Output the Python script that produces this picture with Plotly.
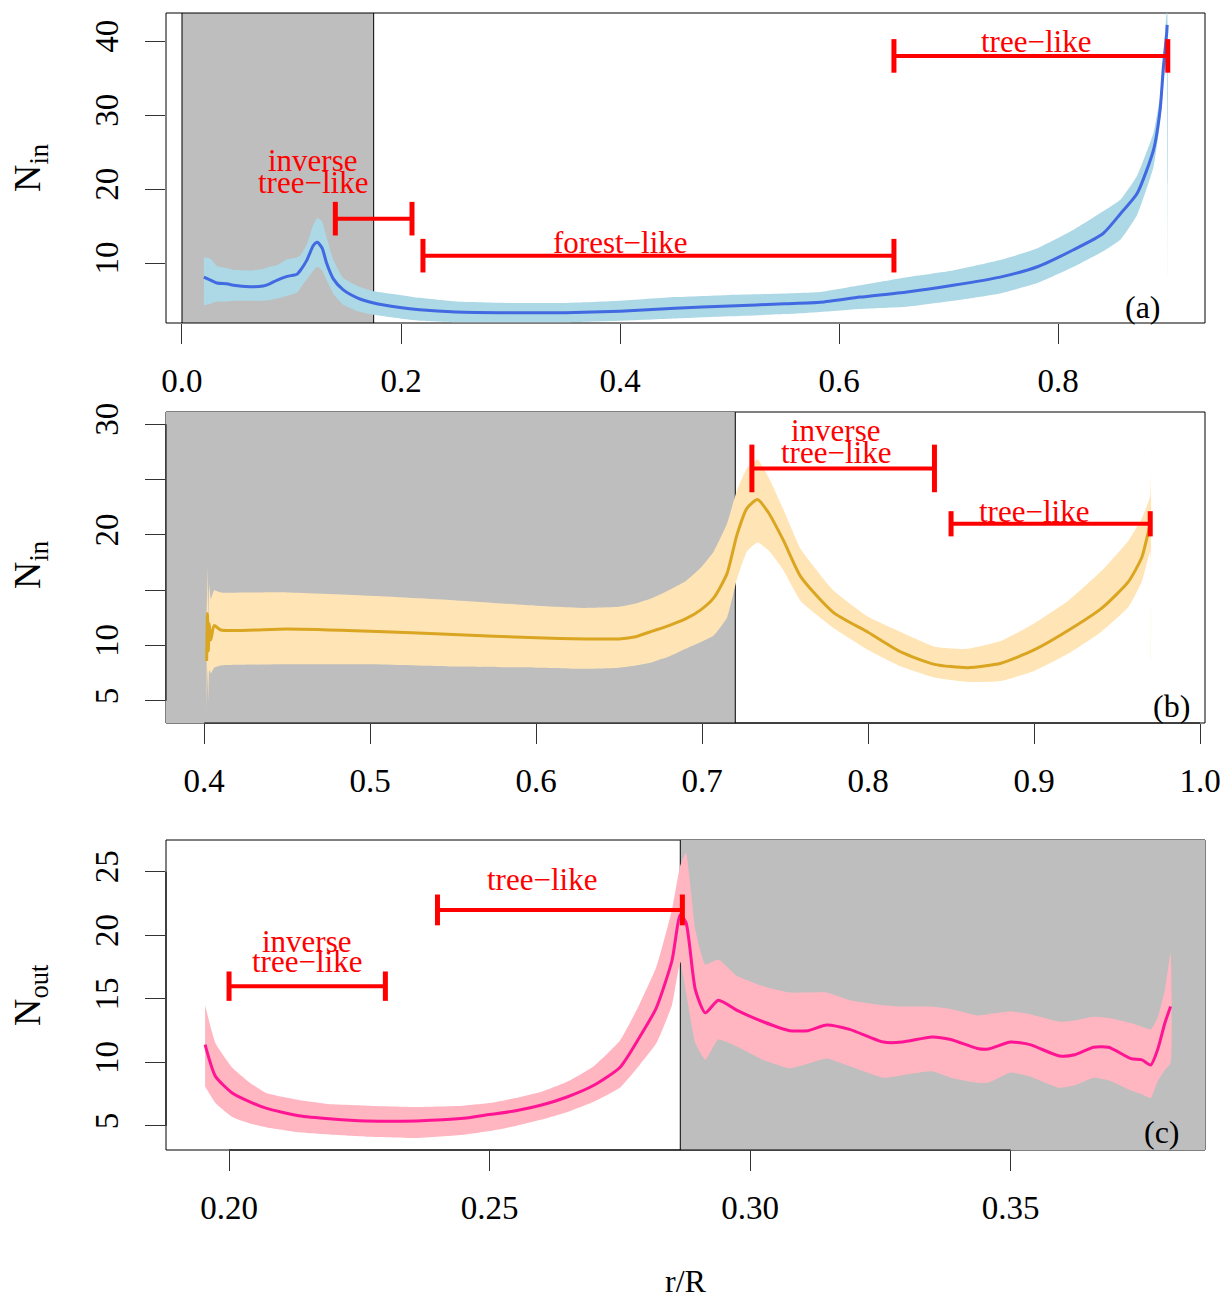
import plotly.graph_objects as go

FONT = "Liberation Serif"

# ---------------- data ----------------
# panel (a): N_in vs r/R
a_x = [0.020, 0.026, 0.032, 0.041, 0.047, 0.062, 0.074, 0.080, 0.087, 0.096, 0.105, 0.108, 0.114,
       0.120, 0.1236, 0.128, 0.132, 0.138, 0.147, 0.160, 0.175, 0.199, 0.217, 0.25, 0.30, 0.35,
       0.40, 0.45, 0.50, 0.55, 0.583, 0.619, 0.662, 0.704, 0.747, 0.781, 0.814, 0.841, 0.857,
       0.872, 0.887, 0.893, 0.896, 0.899, 0.8995]
a_mean = [8.1, 7.7, 7.3, 7.2, 7.0, 6.8, 6.9, 7.2, 7.7, 8.2, 8.5, 9.0, 10.4,
          12.4, 12.8, 12.0, 10.0, 7.9, 6.4, 5.3, 4.6, 4.0, 3.7, 3.4, 3.3, 3.3,
          3.5, 3.9, 4.2, 4.5, 4.7, 5.4, 6.1, 7.0, 8.1, 9.5, 11.8, 14.0, 16.7,
          19.4, 25.3, 30.7, 36.5, 41.0, 42.2]
a_hi = [10.8, 10.6, 9.6, 9.3, 9.1, 9.0, 9.2, 9.5, 9.7, 10.5, 10.8, 11.0, 12.5,
        15.2, 16.1, 15.6, 13.5, 10.5, 8.0, 6.9, 6.2, 5.7, 5.3, 4.8, 4.6, 4.6,
        4.9, 5.4, 5.7, 5.9, 6.1, 7.0, 8.1, 9.0, 10.4, 12.0, 14.5, 17.0, 18.6,
        21.8, 27.6, 32.5, 37.5, 43.8, 43.8]
a_lo = [4.3, 4.5, 4.8, 4.8, 4.9, 4.9, 4.9, 5.0, 5.2, 5.6, 6.0, 6.6, 7.8,
        9.0, 9.5, 9.0, 7.7, 5.9, 4.4, 3.5, 3.0, 2.5, 2.2, 2.0, 2.0, 2.0,
        2.2, 2.5, 2.8, 3.1, 3.4, 3.8, 4.1, 4.9, 5.9, 7.3, 9.5, 11.6, 13.2,
        16.5, 23.0, 29.0, 34.0, 38.0, 8.0]

# panel (b): N_in vs r/R
b_x = [0.4015, 0.402, 0.4025, 0.403, 0.404, 0.406, 0.41, 0.45, 0.50, 0.55, 0.60, 0.63, 0.65,
       0.66, 0.67, 0.68, 0.69, 0.699, 0.707, 0.715, 0.721, 0.727, 0.7334, 0.740, 0.749,
       0.7595, 0.779, 0.800, 0.820, 0.840, 0.860, 0.880, 0.900, 0.921, 0.941, 0.957,
       0.965, 0.970, 0.9705]
b_mean = [8.6, 12.9, 9.5, 12.0, 10.5, 11.8, 11.4, 11.5, 11.3, 11.0, 10.7, 10.6, 10.6,
          10.8, 11.3, 11.8, 12.4, 13.2, 14.3, 16.5, 20.0, 22.4, 23.2, 22.0, 19.5,
          16.2, 13.0, 11.2, 9.4, 8.3, 8.0, 8.4, 9.6, 11.4, 13.4, 15.8,
          18.0, 20.9, 21.0]
b_hi = [13.0, 17.0, 12.0, 15.5, 14.2, 15.0, 14.8, 14.8, 14.5, 14.1, 13.6, 13.4, 13.5,
        13.8, 14.3, 15.0, 15.8, 17.0, 18.5, 21.0, 24.0, 26.0, 26.8, 25.2, 22.3,
        18.7, 15.0, 12.6, 11.2, 9.9, 9.7, 10.4, 12.0, 14.1, 16.8, 19.5,
        21.5, 23.5, 31.0]
b_lo = [4.0, 8.0, 5.0, 7.8, 7.5, 8.0, 8.2, 8.3, 8.3, 8.1, 8.0, 7.9, 8.0,
        8.2, 8.5, 9.0, 9.7, 10.3, 10.9, 12.5, 16.0, 18.5, 19.3, 18.6, 16.8,
        14.0, 11.6, 9.6, 8.1, 7.1, 6.7, 6.8, 7.7, 9.3, 11.3, 13.5,
        15.8, 18.5, 8.7]

# panel (c): N_out vs r/R
c_x = [0.1954, 0.1974, 0.2006, 0.2040, 0.2071, 0.2134, 0.2198, 0.2263, 0.236, 0.245, 0.25,
       0.255, 0.26, 0.265, 0.27, 0.275, 0.2788, 0.282, 0.285, 0.2866, 0.2877, 0.2895,
       0.2914, 0.2939, 0.2975, 0.3025, 0.3076, 0.3111, 0.3147, 0.3191, 0.3256, 0.3292,
       0.3349, 0.3385, 0.3436, 0.3457, 0.3500, 0.3537, 0.3594, 0.3623, 0.3659, 0.3688,
       0.3731, 0.3752, 0.3769, 0.3782, 0.3796, 0.3807]
c_mean = [11.4, 8.9, 7.6, 6.9, 6.4, 5.8, 5.55, 5.4, 5.4, 5.6, 5.9,
          6.2, 6.65, 7.3, 8.2, 9.6, 12.0, 14.3, 18.0, 21.6, 21.0, 15.7,
          13.9, 14.9, 14.1, 13.2, 12.5, 12.5, 12.95, 12.6, 11.6, 11.6,
          12.0, 11.8, 11.1, 11.05, 11.6, 11.4, 10.5, 10.6, 11.2, 11.2,
          10.3, 10.2, 9.8, 11.0, 13.1, 14.4]
c_hi = [14.5, 11.5, 9.6, 8.4, 7.6, 7.05, 6.7, 6.6, 6.5, 6.6, 6.8,
        7.2, 7.7, 8.5, 9.7, 11.7, 14.6, 17.5, 22.0, 25.5, 26.5, 20.4,
        17.7, 18.1, 16.8, 16.0, 15.5, 15.5, 15.5, 14.9, 14.5, 14.4,
        14.4, 14.2, 13.7, 13.8, 14.0, 13.8, 13.2, 13.3, 13.6, 13.5,
        13.1, 12.8, 12.6, 13.5, 15.7, 18.6]
c_lo = [8.1, 6.8, 5.7, 5.2, 4.9, 4.5, 4.3, 4.15, 4.05, 4.3, 4.6,
        5.0, 5.5, 6.1, 6.9, 8.0, 9.8, 11.5, 14.5, 17.9, 15.5, 11.5,
        10.2, 11.8, 11.25, 10.2, 9.55, 9.9, 10.3, 9.7, 8.8, 9.0,
        9.3, 8.8, 8.4, 8.4, 9.2, 8.9, 8.0, 8.2, 8.8, 8.6,
        7.8, 7.5, 7.2, 8.5, 9.4, 9.95]

# shaded regions (x-intervals)
a_shade = [0.0, 0.175]
b_shade_end = 0.72
c_shade_start = 0.2866

# axis ticks
a_xticks = [0.0, 0.2, 0.4, 0.6, 0.8]
a_yticks = [10, 20, 30, 40]
b_xticks = [0.4, 0.5, 0.6, 0.7, 0.8, 0.9, 1.0]
b_yticks = [5, 10, 15, 20, 25, 30]
b_yticklabels = ["5", "10", " ", "20", " ", "30"]
c_xticks = [0.20, 0.25, 0.30, 0.35]
c_yticks = [5, 10, 15, 20, 25]

# regime intervals: (panel, x0, x1, y)
intervals = [
    ("a", 0.14, 0.21, 16.0),
    ("a", 0.22, 0.65, 11.0),
    ("a", 0.65, 0.90, 38.0),
    ("b", 0.73, 0.84, 26.0),
    ("b", 0.85, 0.97, 21.0),
    ("c", 0.20, 0.23, 16.0),
    ("c", 0.24, 0.287, 22.0),
]
cap_sizes = [24, 24, 24, 34, 18, 21, 22]
# regime labels: (panel, x, y, text)
labels = [
    ("a", 0.12, 23.9, "inverse"),
    ("a", 0.12, 20.95, "tree\u2212like"),
    ("a", 0.40, 12.84, "forest\u2212like"),
    ("a", 0.78, 40.0, "tree\u2212like"),
    ("b", 0.7807, 29.46, "inverse"),
    ("b", 0.7807, 27.48, "tree\u2212like"),
    ("b", 0.90, 22.07, "tree\u2212like"),
    ("c", 0.215, 19.49, "inverse"),
    ("c", 0.215, 17.91, "tree\u2212like"),
    ("c", 0.26, 24.37, "tree\u2212like"),
]

# ---------------- layout constants ----------------
W, H = 1225, 1298
XDOM = [166 / W, 1205 / W]
YDOM = {"a": [1 - 323 / H, 1 - 13 / H], "b": [1 - 723 / H, 1 - 412 / H], "c": [1 - 1150 / H, 1 - 840 / H]}
XR = {"a": [-0.0146, 0.934], "b": [0.377, 1.003], "c": [0.1879, 0.3873]}
YR = {"a": [1.9, 43.8], "b": [3.0, 31.1], "c": [3.11, 27.5]}
AX = {"a": ("x", "y"), "b": ("x2", "y2"), "c": ("x3", "y3")}

fig = go.Figure()


def add_panel(key, x, mean, lo, hi, band_col, line_col):
    xa, ya = AX[key]
    fig.add_trace(go.Scatter(x=list(x) + list(x)[::-1], y=list(hi) + list(lo)[::-1],
                             fill="toself", fillcolor=band_col, mode="lines",
                             line=dict(width=0, color=band_col, shape="spline", smoothing=0.4),
                             hoverinfo="skip", showlegend=False, xaxis=xa, yaxis=ya))
    fig.add_trace(go.Scatter(x=x, y=mean, mode="lines",
                             line=dict(color=line_col, width=3, shape="spline", smoothing=0.6),
                             showlegend=False, xaxis=xa, yaxis=ya))


add_panel("a", a_x, a_mean, a_lo, a_hi, "#ADD8E6", "#4169E1")
add_panel("b", b_x, b_mean, b_lo, b_hi, "#FFE4B5", "#DAA520")
add_panel("c", c_x, c_mean, c_lo, c_hi, "#FFB6C1", "#FF1493")

for (key, x0, x1, yv), cs in zip(intervals, cap_sizes):
    xa, ya = AX[key]
    fig.add_trace(go.Scatter(x=[x0, x1], y=[yv, yv], mode="lines+markers",
                             line=dict(color="#FF0000", width=4),
                             marker=dict(symbol="line-ns", size=cs, color="#FF0000",
                                         line=dict(color="#FF0000", width=5)),
                             showlegend=False, xaxis=xa, yaxis=ya))

annotations = []
for key, lx, ly, txt in labels:
    xa, ya = AX[key]
    annotations.append(dict(x=lx, y=ly, xref=xa, yref=ya, text=txt, showarrow=False,
                            font=dict(family=FONT, size=31, color="#FF0000"),
                            xanchor="center", yanchor="middle"))

for key, lab, rx, ry in [("a", "(a)", 0.9596, 0.052), ("b", "(b)", 0.9875, 0.055), ("c", "(c)", 0.978, 0.058)]:
    xa, ya = AX[key]
    annotations.append(dict(x=rx, y=ry, xref=xa + " domain", yref=ya + " domain", text=lab,
                            showarrow=False, font=dict(family=FONT, size=32, color="black"),
                            xanchor="right", yanchor="middle"))

for lab, py in [("N<sub>in</sub>", 168), ("N<sub>in</sub>", 565), ("N<sub>out</sub>", 995)]:
    annotations.append(dict(x=30 / W, y=1 - py / H, xref="paper", yref="paper", text=lab,
                            showarrow=False, textangle=-90,
                            font=dict(family=FONT, size=38, color="black"),
                            xanchor="center", yanchor="middle"))
annotations.append(dict(x=686 / W, y=1 - 1281 / H, xref="paper", yref="paper", text="r/R",
                        showarrow=False, font=dict(family=FONT, size=32, color="black"),
                        xanchor="center", yanchor="middle"))

shapes = []
GREY = "#BEBEBE"


def box(key, layer="below"):
    xa, ya = AX[key]
    return dict(type="rect", xref=xa + " domain", yref=ya + " domain", x0=0, x1=1, y0=0, y1=1,
                line=dict(color="black", width=1), fillcolor="rgba(0,0,0,0)", layer=layer)


def vline(key, xv):
    xa, ya = AX[key]
    return dict(type="line", xref=xa, yref=ya + " domain", x0=xv, x1=xv, y0=0, y1=1,
                line=dict(color="black", width=1), layer="below")


def axlines(key, xt, yt):
    xa, ya = AX[key]
    return [dict(type="line", xref=xa, yref=ya + " domain", x0=xt[0], x1=xt[-1], y0=0, y1=0,
                 line=dict(color="black", width=1), layer="below"),
            dict(type="line", xref=xa + " domain", yref=ya, x0=0, x1=0, y0=yt[0], y1=yt[-1],
                 line=dict(color="black", width=1), layer="below")]


# panel a
shapes.append(dict(type="rect", xref="x", yref="y domain", x0=a_shade[0], x1=a_shade[1], y0=0, y1=1,
                   fillcolor=GREY, line=dict(width=0), layer="below"))
shapes.append(vline("a", a_shade[0]))
shapes.append(vline("a", a_shade[1]))
shapes.append(box("a"))
# panel b
shapes.append(box("b"))
shapes.append(dict(type="rect", xref="x2", yref="y2 domain", x0=XR["b"][0], x1=b_shade_end, y0=0, y1=1,
                   fillcolor=GREY, line=dict(width=0), layer="below"))
shapes.append(vline("b", b_shade_end))
shapes += axlines("b", b_xticks, b_yticks)
# panel c
shapes.append(box("c"))
shapes.append(dict(type="rect", xref="x3", yref="y3 domain", x0=c_shade_start, x1=XR["c"][1], y0=0, y1=1,
                   fillcolor=GREY, line=dict(width=0), layer="below"))
shapes.append(vline("c", c_shade_start))
shapes += axlines("c", c_xticks, c_yticks)

tickfont = dict(family=FONT, size=33, color="black")


def xaxis(key, ticks, fmt):
    ya = AX[key][1]
    return dict(domain=XDOM, range=XR[key], anchor=ya, tickmode="array", tickvals=ticks,
                tickformat=fmt, ticks="outside", ticklen=20, tickwidth=1, tickcolor="#333333",
                showgrid=False, zeroline=False, showline=False, tickfont=tickfont,
                ticklabelstandoff=8, automargin=False)


def yaxis(key, ticks, text=None):
    xa = AX[key][0]
    d = dict(domain=YDOM[key], range=YR[key], anchor=xa, tickmode="array", tickvals=ticks,
             ticks="outside", ticklen=20, tickwidth=1, tickcolor="#333333", tickangle=-90,
             showgrid=False, zeroline=False, showline=False, tickfont=tickfont,
             ticklabelstandoff=14, automargin=False)
    if text is not None:
        d["ticktext"] = text
    return d


fig.update_layout(
    width=W, height=H, margin=dict(l=0, r=0, t=0, b=0, pad=0),
    paper_bgcolor="white", plot_bgcolor="white", showlegend=False,
    font=dict(family=FONT),
    xaxis=xaxis("a", a_xticks, ".1f"), yaxis=yaxis("a", a_yticks),
    xaxis2=xaxis("b", b_xticks, ".1f"), yaxis2=yaxis("b", b_yticks, b_yticklabels),
    xaxis3=xaxis("c", c_xticks, ".2f"), yaxis3=yaxis("c", c_yticks),
    shapes=shapes, annotations=annotations,
)

fig.write_html("out.html")
